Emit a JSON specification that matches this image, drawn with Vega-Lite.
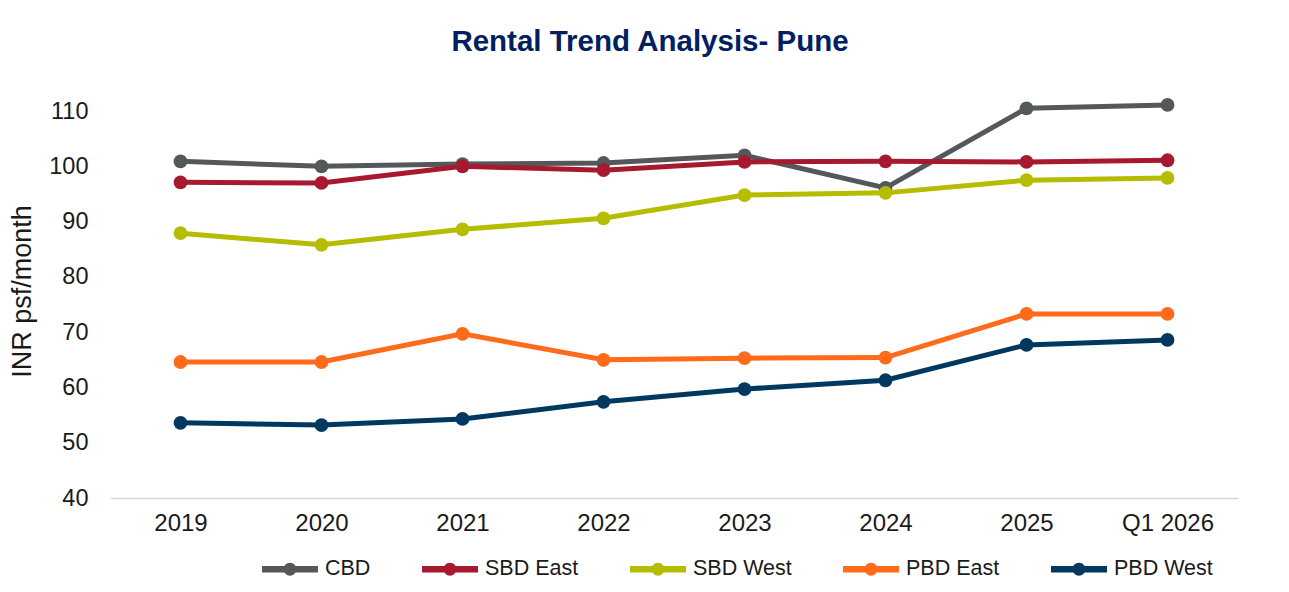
{
  "$schema": "https://vega.github.io/schema/vega-lite/v6.json",
  "width": 1128,
  "height": 398,
  "autosize": {"type": "none"},
  "padding": {"left": 110, "top": 100, "right": 51, "bottom": 94},
  "background": "white",
  "config": {
    "font": "Liberation Sans",
    "view": {"stroke": null}
  },
  "title": {
    "text": "Rental Trend Analysis- Pune",
    "fontSize": 29.5,
    "fontWeight": "bold",
    "color": "#002060",
    "font": "Liberation Sans",
    "anchor": "middle",
    "dx": -24,
    "offset": 37
  },
  "data": {
    "values": [
      {"period": "2019", "zone": "CBD", "rent": 100.9},
      {"period": "2020", "zone": "CBD", "rent": 100.0},
      {"period": "2021", "zone": "CBD", "rent": 100.4},
      {"period": "2022", "zone": "CBD", "rent": 100.6},
      {"period": "2023", "zone": "CBD", "rent": 102.0},
      {"period": "2024", "zone": "CBD", "rent": 96.1},
      {"period": "2025", "zone": "CBD", "rent": 110.5},
      {"period": "Q1 2026", "zone": "CBD", "rent": 111.1},
      {"period": "2019", "zone": "SBD East", "rent": 97.1},
      {"period": "2020", "zone": "SBD East", "rent": 97.0},
      {"period": "2021", "zone": "SBD East", "rent": 100.0},
      {"period": "2022", "zone": "SBD East", "rent": 99.3},
      {"period": "2023", "zone": "SBD East", "rent": 100.8},
      {"period": "2024", "zone": "SBD East", "rent": 100.9},
      {"period": "2025", "zone": "SBD East", "rent": 100.8},
      {"period": "Q1 2026", "zone": "SBD East", "rent": 101.1},
      {"period": "2019", "zone": "SBD West", "rent": 87.9},
      {"period": "2020", "zone": "SBD West", "rent": 85.8},
      {"period": "2021", "zone": "SBD West", "rent": 88.6},
      {"period": "2022", "zone": "SBD West", "rent": 90.6},
      {"period": "2023", "zone": "SBD West", "rent": 94.8},
      {"period": "2024", "zone": "SBD West", "rent": 95.2},
      {"period": "2025", "zone": "SBD West", "rent": 97.5},
      {"period": "Q1 2026", "zone": "SBD West", "rent": 97.9},
      {"period": "2019", "zone": "PBD East", "rent": 64.6},
      {"period": "2020", "zone": "PBD East", "rent": 64.6},
      {"period": "2021", "zone": "PBD East", "rent": 69.7},
      {"period": "2022", "zone": "PBD East", "rent": 65.0},
      {"period": "2023", "zone": "PBD East", "rent": 65.3},
      {"period": "2024", "zone": "PBD East", "rent": 65.4},
      {"period": "2025", "zone": "PBD East", "rent": 73.3},
      {"period": "Q1 2026", "zone": "PBD East", "rent": 73.3},
      {"period": "2019", "zone": "PBD West", "rent": 53.6},
      {"period": "2020", "zone": "PBD West", "rent": 53.2},
      {"period": "2021", "zone": "PBD West", "rent": 54.3},
      {"period": "2022", "zone": "PBD West", "rent": 57.4},
      {"period": "2023", "zone": "PBD West", "rent": 59.7},
      {"period": "2024", "zone": "PBD West", "rent": 61.3},
      {"period": "2025", "zone": "PBD West", "rent": 67.7},
      {"period": "Q1 2026", "zone": "PBD West", "rent": 68.6}
    ]
  },
  "encoding": {
    "x": {
      "field": "period",
      "type": "ordinal",
      "sort": null,
      "scale": {"type": "point", "padding": 0.5},
      "axis": {
        "title": null,
        "labelAngle": 0,
        "labelFontSize": 24,
        "labelColor": "#1a1a1a",
        "labelPadding": 13,
        "ticks": false,
        "domainColor": "#d9d9d9",
        "domainWidth": 1.5,
        "grid": false
      }
    },
    "y": {
      "field": "rent",
      "type": "quantitative",
      "scale": {"domain": [40, 112], "nice": false, "zero": false},
      "axis": {
        "title": "INR psf/month",
        "titleFontSize": 27,
        "titleFontWeight": "normal",
        "titleColor": "#1a1a1a",
        "titlePadding": 12,
        "titleY": 191,
        "values": [40, 50, 60, 70, 80, 90, 100, 110],
        "labelFontSize": 23.5,
        "labelColor": "#1a1a1a",
        "labelPadding": 22,
        "ticks": false,
        "domain": false,
        "grid": false
      }
    }
  },
  "layer": [
    {
      "mark": {"type": "line", "strokeWidth": 5},
      "encoding": {
        "color": {
          "field": "zone",
          "type": "nominal",
          "scale": {
            "domain": ["CBD", "SBD East", "SBD West", "PBD East", "PBD West"],
            "range": ["#54585a", "#a6192e", "#b5bd00", "#ff6a1b", "#01385f"]
          },
          "legend": {
            "title": null,
            "orient": "none",
            "direction": "horizontal",
            "legendX": 152,
            "legendY": 441,
            "padding": 0,
            "columnPadding": 51,
            "labelFontSize": 21.5,
            "labelColor": "#1a1a1a",
            "labelOffset": 7,
            "symbolType": "M-1,-0.12L1,-0.12L1,0.12L-1,0.12Z M0.23,0A0.23,0.23 0 1,1 -0.23,0A0.23,0.23 0 1,1 0.23,0Z",
            "symbolSize": 3136,
            "symbolStrokeWidth": 0,
            "symbolOpacity": 1
          }
        }
      }
    },
    {
      "mark": {"type": "point", "filled": true, "size": 190, "opacity": 1, "shape": "circle"},
      "encoding": {
        "color": {"field": "zone", "type": "nominal"}
      }
    }
  ]
}
